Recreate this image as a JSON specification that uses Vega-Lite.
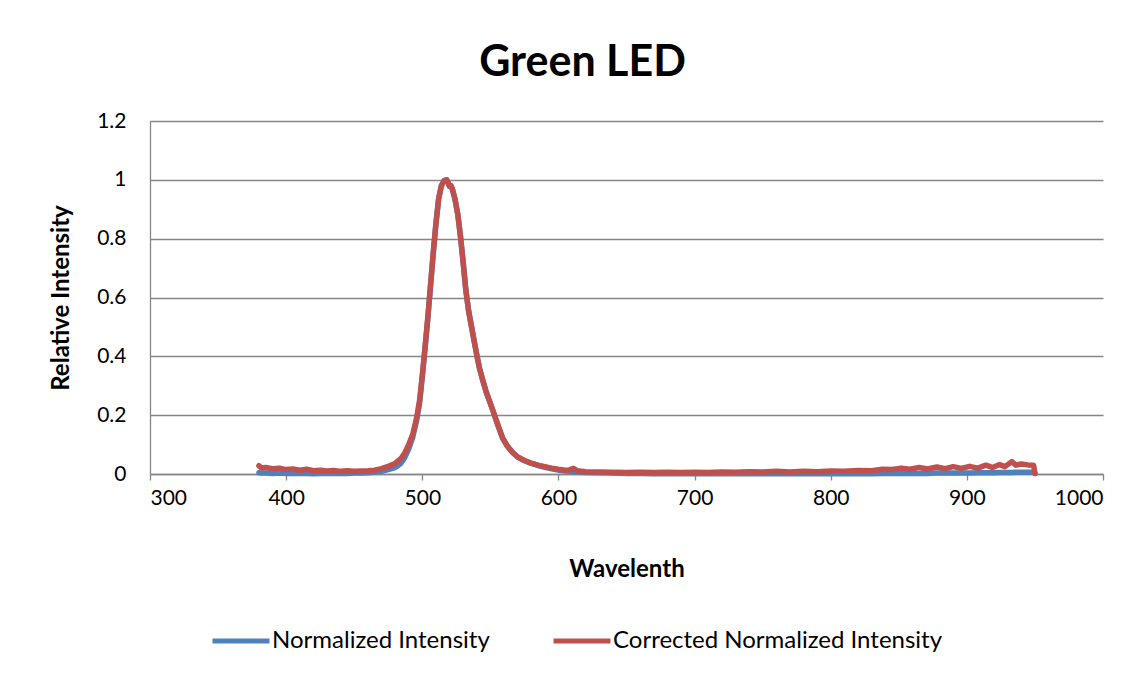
{
  "$schema": "https://vega.github.io/schema/vega-lite/v6.json",
  "autosize": {"type": "none"},
  "width": 953,
  "height": 353,
  "padding": {"left": 150, "top": 121, "right": 45, "bottom": 203},
  "background": "white",
  "config": {
    "font": "Lato",
    "view": {"stroke": null},
    "axis": {"labelFont": "Lato", "titleFont": "Lato", "labelColor": "#000", "titleColor": "#000"}
  },
  "title": {"text": "Green LED", "fontSize": 43, "fontWeight": "bold", "font": "Lato", "color": "#000", "anchor": "middle", "dx": -44, "offset": 25},
  "data": {"values": [
    {"w": 380, "Normalized Intensity": 0.004, "Corrected Normalized Intensity": 0.028},
    {"w": 382, "Normalized Intensity": 0.003, "Corrected Normalized Intensity": 0.02},
    {"w": 385, "Normalized Intensity": 0.003, "Corrected Normalized Intensity": 0.022},
    {"w": 390, "Normalized Intensity": 0.002, "Corrected Normalized Intensity": 0.018},
    {"w": 395, "Normalized Intensity": 0.003, "Corrected Normalized Intensity": 0.02},
    {"w": 400, "Normalized Intensity": 0.002, "Corrected Normalized Intensity": 0.015},
    {"w": 405, "Normalized Intensity": 0.002, "Corrected Normalized Intensity": 0.017},
    {"w": 410, "Normalized Intensity": 0.002, "Corrected Normalized Intensity": 0.013},
    {"w": 415, "Normalized Intensity": 0.002, "Corrected Normalized Intensity": 0.016},
    {"w": 420, "Normalized Intensity": 0.001, "Corrected Normalized Intensity": 0.011},
    {"w": 425, "Normalized Intensity": 0.002, "Corrected Normalized Intensity": 0.013},
    {"w": 430, "Normalized Intensity": 0.002, "Corrected Normalized Intensity": 0.01},
    {"w": 435, "Normalized Intensity": 0.002, "Corrected Normalized Intensity": 0.012},
    {"w": 440, "Normalized Intensity": 0.002, "Corrected Normalized Intensity": 0.009},
    {"w": 445, "Normalized Intensity": 0.002, "Corrected Normalized Intensity": 0.011},
    {"w": 450, "Normalized Intensity": 0.003, "Corrected Normalized Intensity": 0.009},
    {"w": 455, "Normalized Intensity": 0.003, "Corrected Normalized Intensity": 0.01},
    {"w": 460, "Normalized Intensity": 0.004, "Corrected Normalized Intensity": 0.011},
    {"w": 465, "Normalized Intensity": 0.006, "Corrected Normalized Intensity": 0.013},
    {"w": 470, "Normalized Intensity": 0.009, "Corrected Normalized Intensity": 0.018},
    {"w": 475, "Normalized Intensity": 0.015, "Corrected Normalized Intensity": 0.026},
    {"w": 480, "Normalized Intensity": 0.022, "Corrected Normalized Intensity": 0.036},
    {"w": 484, "Normalized Intensity": 0.035, "Corrected Normalized Intensity": 0.051},
    {"w": 487, "Normalized Intensity": 0.055, "Corrected Normalized Intensity": 0.07},
    {"w": 490, "Normalized Intensity": 0.085, "Corrected Normalized Intensity": 0.1},
    {"w": 493, "Normalized Intensity": 0.125, "Corrected Normalized Intensity": 0.135},
    {"w": 496, "Normalized Intensity": 0.185, "Corrected Normalized Intensity": 0.195},
    {"w": 498, "Normalized Intensity": 0.24, "Corrected Normalized Intensity": 0.25},
    {"w": 500, "Normalized Intensity": 0.33, "Corrected Normalized Intensity": 0.335},
    {"w": 502, "Normalized Intensity": 0.425, "Corrected Normalized Intensity": 0.43},
    {"w": 504, "Normalized Intensity": 0.525, "Corrected Normalized Intensity": 0.53},
    {"w": 506, "Normalized Intensity": 0.635, "Corrected Normalized Intensity": 0.64},
    {"w": 508, "Normalized Intensity": 0.745, "Corrected Normalized Intensity": 0.75},
    {"w": 510, "Normalized Intensity": 0.85, "Corrected Normalized Intensity": 0.85},
    {"w": 512, "Normalized Intensity": 0.935, "Corrected Normalized Intensity": 0.935},
    {"w": 514, "Normalized Intensity": 0.98, "Corrected Normalized Intensity": 0.98},
    {"w": 516, "Normalized Intensity": 0.997, "Corrected Normalized Intensity": 0.997},
    {"w": 518, "Normalized Intensity": 1.0, "Corrected Normalized Intensity": 1.0},
    {"w": 519, "Normalized Intensity": 0.99, "Corrected Normalized Intensity": 0.99},
    {"w": 520, "Normalized Intensity": 0.978, "Corrected Normalized Intensity": 0.978},
    {"w": 521, "Normalized Intensity": 0.98, "Corrected Normalized Intensity": 0.98},
    {"w": 522, "Normalized Intensity": 0.97, "Corrected Normalized Intensity": 0.97},
    {"w": 524, "Normalized Intensity": 0.935, "Corrected Normalized Intensity": 0.935},
    {"w": 526, "Normalized Intensity": 0.885, "Corrected Normalized Intensity": 0.885},
    {"w": 528, "Normalized Intensity": 0.81, "Corrected Normalized Intensity": 0.81},
    {"w": 530, "Normalized Intensity": 0.72, "Corrected Normalized Intensity": 0.72},
    {"w": 532, "Normalized Intensity": 0.625, "Corrected Normalized Intensity": 0.625},
    {"w": 534, "Normalized Intensity": 0.555, "Corrected Normalized Intensity": 0.555},
    {"w": 536, "Normalized Intensity": 0.505, "Corrected Normalized Intensity": 0.505},
    {"w": 538, "Normalized Intensity": 0.455, "Corrected Normalized Intensity": 0.455},
    {"w": 540, "Normalized Intensity": 0.405, "Corrected Normalized Intensity": 0.405},
    {"w": 542, "Normalized Intensity": 0.36, "Corrected Normalized Intensity": 0.36},
    {"w": 544, "Normalized Intensity": 0.325, "Corrected Normalized Intensity": 0.325},
    {"w": 547, "Normalized Intensity": 0.278, "Corrected Normalized Intensity": 0.278},
    {"w": 550, "Normalized Intensity": 0.24, "Corrected Normalized Intensity": 0.24},
    {"w": 553, "Normalized Intensity": 0.2, "Corrected Normalized Intensity": 0.2},
    {"w": 556, "Normalized Intensity": 0.16, "Corrected Normalized Intensity": 0.16},
    {"w": 559, "Normalized Intensity": 0.122, "Corrected Normalized Intensity": 0.122},
    {"w": 562, "Normalized Intensity": 0.098, "Corrected Normalized Intensity": 0.098},
    {"w": 566, "Normalized Intensity": 0.075, "Corrected Normalized Intensity": 0.075},
    {"w": 570, "Normalized Intensity": 0.058, "Corrected Normalized Intensity": 0.058},
    {"w": 575, "Normalized Intensity": 0.045, "Corrected Normalized Intensity": 0.046},
    {"w": 580, "Normalized Intensity": 0.036, "Corrected Normalized Intensity": 0.037},
    {"w": 585, "Normalized Intensity": 0.029, "Corrected Normalized Intensity": 0.03},
    {"w": 590, "Normalized Intensity": 0.023, "Corrected Normalized Intensity": 0.025},
    {"w": 595, "Normalized Intensity": 0.018, "Corrected Normalized Intensity": 0.02},
    {"w": 600, "Normalized Intensity": 0.013, "Corrected Normalized Intensity": 0.016},
    {"w": 605, "Normalized Intensity": 0.01, "Corrected Normalized Intensity": 0.013},
    {"w": 608, "Normalized Intensity": 0.009, "Corrected Normalized Intensity": 0.014},
    {"w": 611, "Normalized Intensity": 0.008, "Corrected Normalized Intensity": 0.019},
    {"w": 614, "Normalized Intensity": 0.007, "Corrected Normalized Intensity": 0.011},
    {"w": 620, "Normalized Intensity": 0.005, "Corrected Normalized Intensity": 0.008},
    {"w": 630, "Normalized Intensity": 0.004, "Corrected Normalized Intensity": 0.007},
    {"w": 640, "Normalized Intensity": 0.003, "Corrected Normalized Intensity": 0.006},
    {"w": 650, "Normalized Intensity": 0.002, "Corrected Normalized Intensity": 0.005},
    {"w": 660, "Normalized Intensity": 0.002, "Corrected Normalized Intensity": 0.006},
    {"w": 670, "Normalized Intensity": 0.001, "Corrected Normalized Intensity": 0.005},
    {"w": 680, "Normalized Intensity": 0.001, "Corrected Normalized Intensity": 0.006},
    {"w": 690, "Normalized Intensity": 0.001, "Corrected Normalized Intensity": 0.005},
    {"w": 700, "Normalized Intensity": 0.001, "Corrected Normalized Intensity": 0.006},
    {"w": 710, "Normalized Intensity": 0.001, "Corrected Normalized Intensity": 0.005},
    {"w": 720, "Normalized Intensity": 0.001, "Corrected Normalized Intensity": 0.007},
    {"w": 730, "Normalized Intensity": 0.001, "Corrected Normalized Intensity": 0.006},
    {"w": 740, "Normalized Intensity": 0.001, "Corrected Normalized Intensity": 0.008},
    {"w": 750, "Normalized Intensity": 0.001, "Corrected Normalized Intensity": 0.007},
    {"w": 760, "Normalized Intensity": 0.001, "Corrected Normalized Intensity": 0.009},
    {"w": 770, "Normalized Intensity": 0.001, "Corrected Normalized Intensity": 0.007},
    {"w": 780, "Normalized Intensity": 0.001, "Corrected Normalized Intensity": 0.009},
    {"w": 790, "Normalized Intensity": 0.001, "Corrected Normalized Intensity": 0.008},
    {"w": 800, "Normalized Intensity": 0.001, "Corrected Normalized Intensity": 0.01},
    {"w": 810, "Normalized Intensity": 0.001, "Corrected Normalized Intensity": 0.009},
    {"w": 820, "Normalized Intensity": 0.001, "Corrected Normalized Intensity": 0.012},
    {"w": 830, "Normalized Intensity": 0.001, "Corrected Normalized Intensity": 0.011},
    {"w": 838, "Normalized Intensity": 0.002, "Corrected Normalized Intensity": 0.016},
    {"w": 845, "Normalized Intensity": 0.002, "Corrected Normalized Intensity": 0.015},
    {"w": 852, "Normalized Intensity": 0.002, "Corrected Normalized Intensity": 0.02},
    {"w": 858, "Normalized Intensity": 0.002, "Corrected Normalized Intensity": 0.016},
    {"w": 865, "Normalized Intensity": 0.002, "Corrected Normalized Intensity": 0.022},
    {"w": 871, "Normalized Intensity": 0.002, "Corrected Normalized Intensity": 0.017},
    {"w": 878, "Normalized Intensity": 0.003, "Corrected Normalized Intensity": 0.024},
    {"w": 884, "Normalized Intensity": 0.003, "Corrected Normalized Intensity": 0.018},
    {"w": 890, "Normalized Intensity": 0.003, "Corrected Normalized Intensity": 0.025},
    {"w": 896, "Normalized Intensity": 0.003, "Corrected Normalized Intensity": 0.019},
    {"w": 902, "Normalized Intensity": 0.003, "Corrected Normalized Intensity": 0.026},
    {"w": 908, "Normalized Intensity": 0.004, "Corrected Normalized Intensity": 0.02},
    {"w": 914, "Normalized Intensity": 0.004, "Corrected Normalized Intensity": 0.03},
    {"w": 919, "Normalized Intensity": 0.004, "Corrected Normalized Intensity": 0.022},
    {"w": 924, "Normalized Intensity": 0.005, "Corrected Normalized Intensity": 0.032},
    {"w": 928, "Normalized Intensity": 0.005, "Corrected Normalized Intensity": 0.025},
    {"w": 933, "Normalized Intensity": 0.005, "Corrected Normalized Intensity": 0.042},
    {"w": 936, "Normalized Intensity": 0.006, "Corrected Normalized Intensity": 0.03},
    {"w": 940, "Normalized Intensity": 0.006, "Corrected Normalized Intensity": 0.034},
    {"w": 945, "Normalized Intensity": 0.006, "Corrected Normalized Intensity": 0.031},
    {"w": 949, "Normalized Intensity": 0.006, "Corrected Normalized Intensity": 0.03},
    {"w": 950, "Normalized Intensity": 0.002, "Corrected Normalized Intensity": 0.002}
  ]},
  "transform": [
    {"fold": ["Normalized Intensity", "Corrected Normalized Intensity"], "as": ["series", "value"]}
  ],
  "encoding": {
    "x": {
      "field": "w", "type": "quantitative",
      "scale": {"domain": [300, 1000], "nice": false, "zero": false},
      "axis": {
        "title": "Wavelenth", "values": [300, 400, 500, 600, 700, 800, 900, 1000], "format": "d",
        "grid": false, "domainColor": "#868686", "domainWidth": 1.3, "tickColor": "#868686", "tickWidth": 1.3, "tickSize": 6,
        "labelFontSize": 21, "labelPadding": 7, "titleFontSize": 24, "titleFontWeight": "bold",
        "titlePadding": 49
      }
    },
    "y": {
      "field": "value", "type": "quantitative",
      "scale": {"domain": [0, 1.2], "nice": false},
      "axis": {
        "title": "Relative Intensity", "values": [0, 0.2, 0.4, 0.6, 0.8, 1, 1.2], "format": "~g",
        "grid": true, "gridColor": "#868686", "gridWidth": 1.3, "ticks": false,
        "domainColor": "#868686", "domainWidth": 1.3,
        "labelFontSize": 21, "labelPadding": 24, "titleFontSize": 24, "titleFontWeight": "bold",
        "titlePadding": 23
      }
    },
    "color": {
      "field": "series", "type": "nominal",
      "scale": {"domain": ["Normalized Intensity", "Corrected Normalized Intensity"], "range": ["#4F81BD", "#C0504D"]},
      "legend": {
        "title": null, "orient": "none", "legendX": 60, "legendY": 489, "direction": "horizontal",
        "symbolType": "stroke", "symbolSize": 3249, "symbolStrokeWidth": 5,
        "labelFontSize": 24, "labelFont": "Lato", "labelColor": "#000", "labelOffset": 0, "labelLimit": 500,
        "columnPadding": 53, "padding": 0
      }
    }
  },
  "layer": [
    {"transform": [{"filter": "datum.series === 'Normalized Intensity'"}], "mark": {"type": "line", "strokeWidth": 5.5, "strokeJoin": "round", "strokeCap": "round"}},
    {"transform": [{"filter": "datum.series === 'Corrected Normalized Intensity'"}], "mark": {"type": "line", "strokeWidth": 5.5, "strokeJoin": "round", "strokeCap": "round"}}
  ]
}
